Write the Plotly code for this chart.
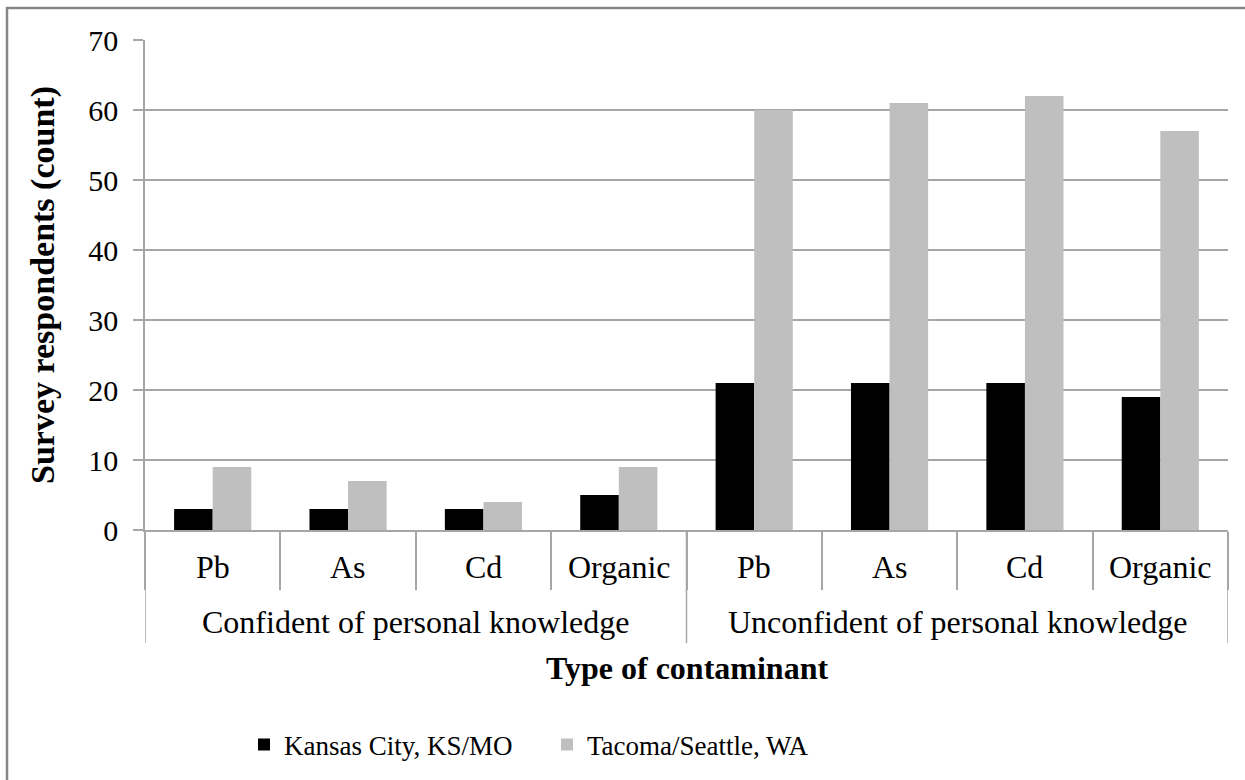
import plotly.graph_objects as go

groups = ["Confident of personal knowledge"] * 4 + ["Unconfident of personal knowledge"] * 4
contaminants = ["Pb", "As", "Cd", "Organic", "Pb", "As", "Cd", "Organic"]
kansas_city = [3, 3, 3, 5, 21, 21, 21, 19]
tacoma_seattle = [9, 7, 4, 9, 60, 61, 62, 57]
series_names = ["Kansas City, KS/MO", "Tacoma/Seattle, WA"]
y_ticks = [0, 10, 20, 30, 40, 50, 60, 70]
x_title = "Type of contaminant"
y_title = "Survey respondents (count)"

FONT = "Liberation Serif"
GRID = "#a6a6a6"

# positions derived from the category lists
xpos = list(range(len(contaminants)))
boundaries = [i - 0.5 for i in range(len(contaminants) + 1)]
group_names = []
for g in groups:
    if g not in group_names:
        group_names.append(g)
group_centers = [sum(i for i, g in enumerate(groups) if g == name) / groups.count(name) for name in group_names]
group_bounds = [-0.5] + [i + 0.5 for i in range(len(groups) - 1) if groups[i] != groups[i + 1]] + [len(groups) - 0.5]

# pixel -> paper helpers (plot area: y=0 at 530px, y=70 at 40px)
PLOT_TOP, PLOT_BOTTOM, PLOT_LEFT, PLOT_RIGHT = 40, 530, 145, 1228
def py(pix):
    return (PLOT_BOTTOM - pix) / (PLOT_BOTTOM - PLOT_TOP)
def px(pix):
    return (pix - PLOT_LEFT) / (PLOT_RIGHT - PLOT_LEFT)

fig = go.Figure()
fig.add_trace(go.Bar(x=xpos, y=kansas_city, name=series_names[0],
                     marker=dict(color="#000000", line=dict(width=0))))
fig.add_trace(go.Bar(x=xpos, y=tacoma_seattle, name=series_names[1],
                     marker=dict(color="#bfbfbf", line=dict(width=0))))

fig.update_layout(
    width=1245, height=780,
    margin=dict(l=PLOT_LEFT, r=1245 - PLOT_RIGHT, t=PLOT_TOP, b=780 - PLOT_BOTTOM, autoexpand=False),
    paper_bgcolor="white", plot_bgcolor="white",
    font=dict(family=FONT, color="black", size=30),
    barmode="group", bargap=0.43, bargroupgap=0,
    showlegend=True,
    legend=dict(orientation="h", x=px(244), xanchor="left", y=py(745), yanchor="middle",
                font=dict(size=27, family=FONT, color="black"), itemwidth=30, tracegroupgap=0,
                entrywidth=258, entrywidthmode="pixels",
                bgcolor="rgba(0,0,0,0)"),
    xaxis=dict(range=[-0.5, len(contaminants) - 0.5], tickmode="array", tickvals=boundaries,
               showticklabels=False, ticks="outside", ticklen=58,
               tickcolor=GRID, tickwidth=1.5, showline=True, linecolor=GRID, linewidth=1.5,
               showgrid=False, zeroline=False, fixedrange=True),
    yaxis=dict(range=[0, 70], tickvals=y_ticks, ticks="outside", ticklen=10, tickcolor=GRID, tickwidth=1.5,
               showline=True, linecolor=GRID, linewidth=1.5, showgrid=True, gridcolor=GRID, gridwidth=1.5,
               zeroline=False, tickfont=dict(size=30, family=FONT, color="black"), ticklabelstandoff=9,
               fixedrange=True,
               title=dict(text="<b>" + y_title + "</b>", font=dict(size=34, family=FONT, color="black"),
                          standoff=23)),
)

# inner category labels
for i, name in zip(xpos, contaminants):
    fig.add_annotation(x=i, xref="x", y=py(567), yref="paper", text=name, showarrow=False,
                       yanchor="middle", font=dict(size=32, family=FONT, color="black"))
# outer group labels
for c, name in zip(group_centers, group_names):
    fig.add_annotation(x=c, xref="x", y=py(622), yref="paper", text=name, showarrow=False,
                       yanchor="middle", font=dict(size=32, family=FONT, color="black"))
# x axis title
fig.add_annotation(x=0.5, xref="paper", y=py(668), yref="paper", text="<b>" + x_title + "</b>",
                   showarrow=False, yanchor="middle", font=dict(size=32, family=FONT, color="black"))
# group dividers
for b in group_bounds:
    fig.add_shape(type="line", xref="x", yref="paper", x0=b, x1=b, y0=py(643), y1=0,
                  line=dict(color=GRID, width=1.5))

# chart-area border
fig.add_shape(type="rect", xref="paper", yref="paper", x0=px(7), x1=1.1, y0=-0.7, y1=py(8),
              line=dict(color="#868686", width=2.5), fillcolor="rgba(0,0,0,0)", layer="below")

fig.write_html("out.html", config={"displayModeBar": False},
               post_script="document.body.style.margin='0';document.body.style.padding='0';")
